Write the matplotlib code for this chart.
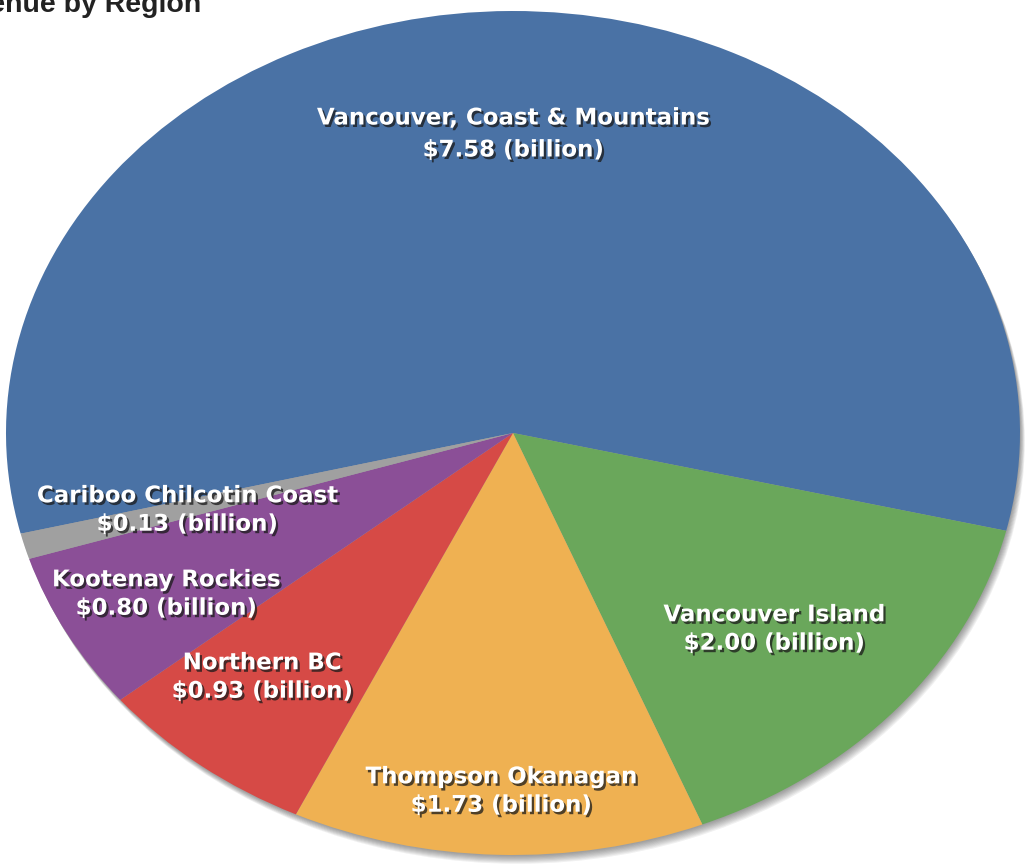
import matplotlib
matplotlib.use("Agg")
import matplotlib.pyplot as plt
import matplotlib.patheffects as pe
from matplotlib.patches import Ellipse

# Tourism revenue by region (billions of dollars)
regions = [
    "Vancouver, Coast & Mountains",
    "Vancouver Island",
    "Thompson Okanagan",
    "Northern BC",
    "Kootenay Rockies",
    "Cariboo Chilcotin Coast",
]
revenue = [7.58, 2.00, 1.73, 0.93, 0.80, 0.13]
colors = ["#4a72a5", "#6aa75b", "#efb152", "#d64a46", "#8b4f97", "#a0a0a0"]
title = "Tourism Revenue by Region"

W, H = 1034, 865
CX, CY = 513, 433          # pie centre in pixels (from top-left)
RX, RY = 507, 422          # horizontal / vertical radii in pixels

# label anchor points in pixels (from top-left) and their line spacing
label_px = [(513, 134), (774, 629), (501, 791), (262, 677), (166, 594), (187, 510)]
label_spacing = [1.5, 1.3, 1.3, 1.3, 1.3, 1.3]


def to_data(px, py):
    return (px - CX) / RX, (CY - py) / RY


fig = plt.figure(figsize=(W / 100, H / 100), dpi=100)
ax = fig.add_axes([0, 0, 1, 1])

# soft drop shadow falling below and to the right of the pie
for i in range(1, 9):
    sh = Ellipse((0.6 * i / RX, -1.1 * i / RY), 2, 2, facecolor="#303030",
                 edgecolor="none", alpha=0.07, zorder=0)
    ax.add_patch(sh)

ax.pie(revenue, colors=colors, startangle=193.8, counterclock=False,
       radius=1, center=(0, 0), frame=True,
       wedgeprops=dict(linewidth=0, zorder=1))

ax.set_aspect("auto")
ax.set_xlim(-CX / RX, (W - CX) / RX)
ax.set_ylim(-(H - CY) / RY, CY / RY)
ax.axis("off")

shadow = [pe.withSimplePatchShadow(offset=(1.6, -1.8), shadow_rgbFace="#1a1a1a",
                                    alpha=0.75)]
for name, val, (px, py), ls in zip(regions, revenue, label_px, label_spacing):
    x, y = to_data(px, py)
    ax.text(x, y, f"{name}\n${val:.2f} (billion)", ha="center", va="center",
            multialignment="center", color="white", fontsize=16.5,
            fontweight="bold", family="DejaVu Sans", linespacing=ls,
            path_effects=shadow, zorder=5)

fig.text(201 / W, 1 - 12 / H, title, ha="right", va="baseline",
         fontsize=20.5, fontweight="bold", color="#222222",
         family="Liberation Sans")

fig.savefig("out.png", dpi=100, facecolor="white")
